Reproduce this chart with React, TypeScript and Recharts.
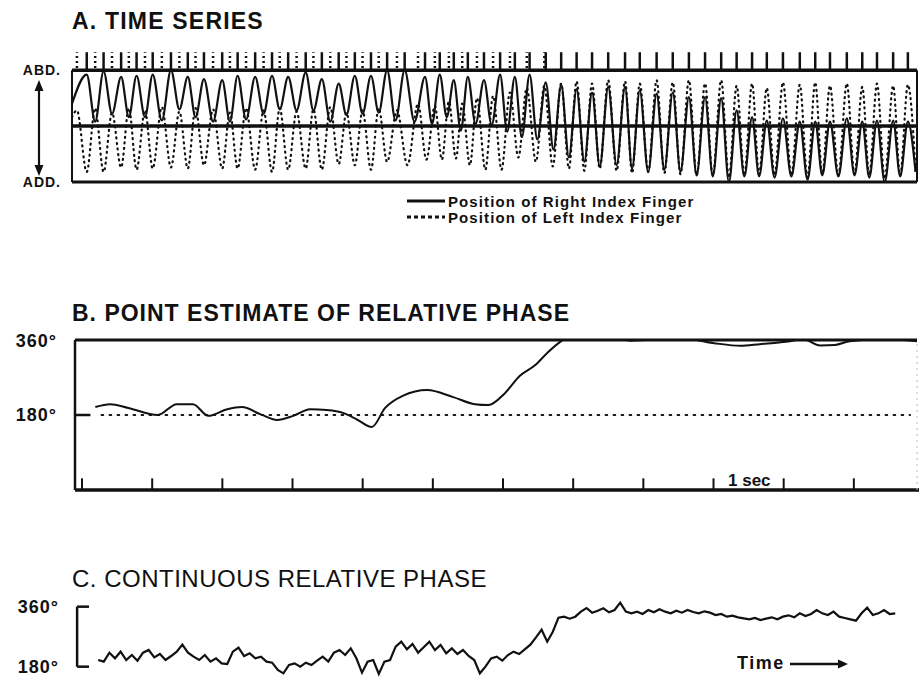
import React from 'react';
import { LineChart, Line, XAxis, YAxis, ReferenceLine } from 'recharts';

const FONT = "'Liberation Sans', Arial, Helvetica, sans-serif";
const INK = '#111';

// ── A. time series: turning points of each finger trace ─────────────
// time in seconds, position 0 = ADD., 100 = ABD.
const rightTimes = [
  -0.14, 0.07, 0.19, 0.31, 0.43, 0.56, 0.67, 0.78, 0.90, 1.01, 1.14, 1.27, 1.39, 1.51, 1.62, 1.74, 1.87,
  2.00, 2.11, 2.22, 2.34, 2.47, 2.59, 2.71, 2.82, 2.94, 3.06, 3.19, 3.30, 3.42, 3.54, 3.66, 3.77, 3.89,
  4.00, 4.12, 4.23, 4.35, 4.47, 4.60, 4.74, 4.89, 4.99, 5.10, 5.20, 5.30, 5.40, 5.50, 5.61, 5.73, 5.84,
  5.96, 6.06, 6.17, 6.27, 6.38, 6.49, 6.61, 6.72, 6.83, 6.94, 7.05, 7.16, 7.27, 7.38, 7.50, 7.62, 7.74,
  7.84, 7.95, 8.07, 8.19, 8.30, 8.42, 8.53, 8.65, 8.76, 8.88, 8.99, 9.11, 9.22, 9.33, 9.44, 9.55, 9.65,
  9.76, 9.87, 9.99, 10.11, 10.23, 10.34, 10.45, 10.55, 10.66, 10.78, 10.90, 11.01, 11.12, 11.22, 11.33,
  11.44, 11.56, 11.66, 11.77, 11.88,
];
const rightPos = [
  70, 96, 54, 99, 61, 94, 58, 95, 58, 96, 55, 100, 65, 94, 58, 92, 54,
  91, 54, 95, 56, 94, 61, 95, 65, 94, 64, 98, 64, 92, 54, 88, 60, 95,
  61, 95, 62, 100, 55, 100, 54, 94, 52, 96, 58, 91, 46, 94, 52, 91, 51,
  96, 45, 94, 40, 96, 38, 89, 29, 87, 22, 83, 18, 80, 14, 85, 15, 85,
  12, 82, 9, 79, 11, 80, 9, 76, 6, 76, 5, 75, 0, 64, 5, 58, 5,
  55, 4, 57, 5, 54, 2, 54, 6, 54, 5, 57, 6, 54, 4, 55,
  0, 55, 5, 54, 9,
];
const leftTimes = [
  -0.14, -0.07, 0.07, 0.19, 0.31, 0.43, 0.56, 0.67, 0.78, 0.90, 1.01, 1.14, 1.27, 1.39, 1.51, 1.62, 1.74,
  1.87, 2.00, 2.11, 2.22, 2.34, 2.47, 2.59, 2.71, 2.82, 2.94, 3.06, 3.19, 3.30, 3.42, 3.54, 3.66, 3.77,
  3.89, 4.00, 4.12, 4.23, 4.35, 4.49, 4.64, 4.79, 4.91, 5.03, 5.13, 5.23, 5.33, 5.42, 5.53, 5.63, 5.75,
  5.86, 5.98, 6.10, 6.22, 6.34, 6.47, 6.59, 6.71, 6.83, 6.94, 7.05, 7.16, 7.27, 7.38, 7.50, 7.62, 7.74,
  7.84, 7.95, 8.07, 8.19, 8.30, 8.42, 8.53, 8.65, 8.76, 8.88, 8.99, 9.11, 9.22, 9.33, 9.44, 9.55, 9.65,
  9.76, 9.87, 9.99, 10.11, 10.23, 10.34, 10.45, 10.55, 10.66, 10.78, 10.90, 11.01, 11.12, 11.22, 11.33,
  11.44, 11.56, 11.66, 11.77, 11.88,
];
const leftPos = [
  58, 64, 9, 66, 9, 62, 13, 66, 11, 64, 12, 67, 13, 63, 12, 66, 15,
  65, 12, 62, 12, 66, 11, 64, 9, 66, 11, 63, 12, 65, 11, 67, 16, 62,
  15, 64, 11, 66, 18, 64, 15, 70, 20, 68, 20, 72, 21, 70, 15, 75, 11,
  77, 11, 80, 22, 84, 18, 86, 14, 88, 12, 90, 10, 88, 12, 91, 10, 90,
  8, 88, 9, 91, 8, 89, 7, 91, 6, 88, 6, 91, 4, 86, 6, 88, 7,
  84, 6, 89, 6, 87, 4, 89, 7, 86, 6, 88, 7, 85, 6, 88,
  3, 86, 6, 87, 10,
];
// left-finger peak marks stop being separate once the hands lock in phase
const IN_PHASE_FROM = 6.7;

// ── B. point estimate of relative phase ────────────────────────────
const phaseTimes = [
  0.19, 0.40, 0.66, 1.08, 1.35, 1.58, 1.80, 2.07, 2.28, 2.54, 2.78, 3.01, 3.25, 3.49, 3.72, 3.93, 4.13,
  4.32, 4.57, 4.92, 5.29, 5.60, 5.79, 6.03, 6.24, 6.46, 6.63, 6.81, 6.91, 7.10, 7.55, 7.81, 8.52, 8.99,
  9.38, 9.66, 10.09, 10.28, 10.52, 10.73, 10.94, 11.37, 11.58, 11.90,
];
const phaseDeg = [
  199, 206, 197, 180, 206, 206, 178, 194, 199, 182, 168, 178, 194, 192, 185, 168, 151,
  197, 226, 240, 223, 206, 204, 233, 274, 300, 329, 355, 365, 360, 372, 358, 365, 353,
  346, 350, 357, 362, 347, 348, 357, 362, 361, 357,
];
const secTicks = [0, 1, 2, 3, 4, 5, 6, 7, 8, 9, 10, 11];

// ── C. continuous relative phase (sampled every 0.08 s from 0.23 s) ─
const CONT_START = 0.23;
const CONT_STEP = 0.08;
const contDeg = [
  200, 195, 222, 205, 225, 200, 215, 198, 222, 230, 208, 218, 200, 212, 225, 246, 222,
  210, 200, 215, 195, 205, 190, 188, 225, 237, 212, 220, 205, 210, 195, 192, 170, 160,
  185, 190, 180, 192, 185, 198, 210, 195, 222, 230, 215, 235, 205, 162, 195, 200, 158,
  195, 200, 240, 255, 232, 248, 222, 238, 255, 230, 245, 220, 235, 218, 230, 212, 200,
  160, 180, 205, 210, 198, 215, 225, 218, 232, 246, 268, 291, 255, 285, 327, 330, 324,
  330, 345, 356, 342, 348, 355, 343, 350, 372, 345, 340, 345, 338, 350, 343, 352, 345,
  340, 348, 342, 350, 344, 340, 346, 342, 335, 338, 330, 333, 328, 325, 322, 326, 320,
  324, 328, 322, 330, 334, 328, 340, 332, 338, 350, 340, 335, 345, 330, 326, 322, 318,
  340, 357, 335, 340, 350, 338, 340,
];

const rightData = rightTimes.map((t, i) => ({ t, v: rightPos[i] }));
const leftData = leftTimes.map((t, i) => ({ t, v: leftPos[i] }));
const rightPeaks = rightTimes.filter((_, i) => i % 2 === 1);
const leftPeaks = leftTimes.filter((t, i) => i % 2 === 1 && t < IN_PHASE_FROM);
const phaseData = phaseTimes.map((t, i) => ({ t, v: phaseDeg[i] }));
const contData = contDeg.map((v, i) => ({ t: CONT_START + i * CONT_STEP, v }));

const A_DOMAIN: [number, number] = [-0.14, 11.9];
const T_DOMAIN: [number, number] = [-0.1, 11.9];

const tickFont = { fill: INK, fontSize: 18, fontWeight: 'bold', fontFamily: FONT };

const title: React.CSSProperties = {
  position: 'absolute', fontFamily: FONT, fontWeight: 'bold', fontSize: 23,
  lineHeight: '23px', letterSpacing: 1.2, color: INK, whiteSpace: 'nowrap',
};
const small: React.CSSProperties = {
  position: 'absolute', fontFamily: FONT, fontWeight: 'bold', fontSize: 17,
  lineHeight: '17px', color: INK, whiteSpace: 'nowrap',
};

function TimeSeries() {
  return (
    <LineChart width={919} height={152} margin={{ top: 10, right: 2, bottom: 10, left: 0 }}>
      <XAxis type="number" dataKey="t" domain={A_DOMAIN} allowDataOverflow hide />
      <YAxis
        type="number" domain={[0, 118]} allowDataOverflow ticks={[0, 100]} width={72}
        axisLine={false} tickLine={false} tickSize={0} tickMargin={11}
        tick={{ ...tickFont, fontSize: 14, letterSpacing: 1 }}
        tickFormatter={(v: number) => (v === 100 ? 'ABD.' : 'ADD.')}
      />
      {/* frame */}
      <ReferenceLine y={100} stroke={INK} strokeWidth={3.5} ifOverflow="visible" />
      <ReferenceLine y={50} stroke={INK} strokeWidth={3.5} ifOverflow="visible" />
      <ReferenceLine y={0} stroke={INK} strokeWidth={3} ifOverflow="visible" />
      <ReferenceLine segment={[{ x: A_DOMAIN[0], y: 0 }, { x: A_DOMAIN[0], y: 100 }]} stroke={INK} strokeWidth={2} ifOverflow="visible" />
      <ReferenceLine segment={[{ x: A_DOMAIN[1], y: 0 }, { x: A_DOMAIN[1], y: 100 }]} stroke={INK} strokeWidth={2} ifOverflow="visible" />
      {/* peak marks above the frame */}
      {leftPeaks.map((t) => (
        <ReferenceLine key={`l${t}`} segment={[{ x: t, y: 102 }, { x: t, y: 116 }]}
          stroke={INK} strokeWidth={2.5} strokeDasharray="2 3" ifOverflow="visible" />
      ))}
      {rightPeaks.map((t) => (
        <ReferenceLine key={`r${t}`} segment={[{ x: t, y: 100 }, { x: t, y: 116 }]}
          stroke={INK} strokeWidth={2.5} ifOverflow="visible" />
      ))}
      <Line data={leftData} dataKey="v" type="monotone" stroke={INK} strokeWidth={2.2}
        strokeDasharray="1 4.5" strokeLinecap="round" dot={false} activeDot={false} isAnimationActive={false} />
      <Line data={rightData} dataKey="v" type="monotone" stroke={INK} strokeWidth={2.2}
        dot={false} activeDot={false} isAnimationActive={false} />
    </LineChart>
  );
}

function PointPhase() {
  return (
    <LineChart width={919} height={170} margin={{ top: 10, right: 2, bottom: 10, left: 0 }}>
      <XAxis type="number" dataKey="t" domain={T_DOMAIN} allowDataOverflow hide />
      <YAxis
        type="number" domain={[0, 360]} allowDataOverflow ticks={[0, 180, 360]} width={75}
        axisLine={false} tickLine={false} tickSize={0} tickMargin={18}
        tick={{ ...tickFont, letterSpacing: 1 }} tickFormatter={(v: number) => `${v}°`}
      />
      <ReferenceLine y={360} stroke={INK} strokeWidth={3} ifOverflow="visible" />
      <ReferenceLine segment={[{ x: T_DOMAIN[0], y: 0 }, { x: 11.93, y: 0 }]} stroke={INK} strokeWidth={3.5} ifOverflow="visible" />
      <ReferenceLine segment={[{ x: T_DOMAIN[0], y: 0 }, { x: T_DOMAIN[0], y: 360 }]} stroke={INK} strokeWidth={2.5} ifOverflow="visible" />
      <ReferenceLine segment={[{ x: T_DOMAIN[1], y: 0 }, { x: T_DOMAIN[1], y: 360 }]} stroke="#bbb" strokeWidth={1} strokeDasharray="2 4" ifOverflow="visible" />
      <ReferenceLine segment={[{ x: T_DOMAIN[0], y: 180 }, { x: 0.12, y: 180 }]} stroke={INK} strokeWidth={2.5} ifOverflow="visible" />
      <ReferenceLine segment={[{ x: 0.28, y: 180 }, { x: 11.8, y: 180 }]} stroke={INK} strokeWidth={2.2}
        strokeDasharray="1.5 6.5" strokeLinecap="round" ifOverflow="visible" />
      {secTicks.map((t) => (
        <ReferenceLine key={t} segment={[{ x: t, y: 0 }, { x: t, y: 28 }]} stroke={INK} strokeWidth={2} ifOverflow="visible" />
      ))}
      <Line data={phaseData} dataKey="v" type="monotone" stroke={INK} strokeWidth={2}
        dot={false} activeDot={false} isAnimationActive={false} />
    </LineChart>
  );
}

function ContPhase() {
  return (
    <LineChart width={919} height={100} margin={{ top: 10, right: 2, bottom: 10, left: 0 }}>
      <XAxis type="number" dataKey="t" domain={T_DOMAIN} allowDataOverflow hide />
      <YAxis
        type="number" domain={[140, 380]} allowDataOverflow ticks={[180, 360]} width={75}
        axisLine={false} tickLine={false} tickSize={0} tickMargin={16}
        tick={{ ...tickFont, letterSpacing: 1 }} tickFormatter={(v: number) => `${v}°`}
      />
      <ReferenceLine segment={[{ x: -0.07, y: 180 }, { x: -0.07, y: 360 }]} stroke={INK} strokeWidth={2.5} ifOverflow="visible" />
      <ReferenceLine segment={[{ x: -0.07, y: 360 }, { x: 0.1, y: 360 }]} stroke={INK} strokeWidth={2.5} ifOverflow="visible" />
      <ReferenceLine segment={[{ x: -0.07, y: 180 }, { x: 0.1, y: 180 }]} stroke={INK} strokeWidth={2.5} ifOverflow="visible" />
      <Line data={contData} dataKey="v" type="linear" stroke={INK} strokeWidth={2.2}
        dot={false} activeDot={false} isAnimationActive={false} />
    </LineChart>
  );
}

export default function App() {
  return (
    <div style={{ position: 'absolute', left: 0, top: 0, width: 919, height: 678, overflow: 'hidden', background: '#fff' }}>
      <div style={{ ...title, left: 72, top: 10 }}>A. TIME SERIES</div>
      <div style={{ position: 'absolute', left: 0, top: 40 }}><TimeSeries /></div>
      <svg style={{ position: 'absolute', left: 31, top: 80 }} width={16} height={96}>
        <line x1={8} y1={8} x2={8} y2={88} stroke={INK} strokeWidth={2.2} />
        <polygon points="8,0 3.5,11 12.5,11" fill={INK} />
        <polygon points="8,96 3.5,85 12.5,85" fill={INK} />
      </svg>
      <svg style={{ position: 'absolute', left: 405, top: 196 }} width={42} height={26}>
        <line x1={2} y1={5} x2={40} y2={5} stroke={INK} strokeWidth={3} />
        <line x1={2} y1={21} x2={40} y2={21} stroke={INK} strokeWidth={3} strokeDasharray="4 3" />
      </svg>
      <div style={{ ...small, left: 448, top: 194, fontSize: 15, lineHeight: '15px', letterSpacing: 1.1 }}>Position of Right Index Finger</div>
      <div style={{ ...small, left: 448, top: 210, fontSize: 15, lineHeight: '15px', letterSpacing: 1.1 }}>Position of Left Index Finger</div>

      <div style={{ ...title, left: 72, top: 302, letterSpacing: 1 }}>B. POINT ESTIMATE OF RELATIVE PHASE</div>
      <div style={{ position: 'absolute', left: 0, top: 330 }}><PointPhase /></div>
      <div style={{ ...small, left: 728, top: 472 }}>1 sec</div>

      <div style={{ ...title, left: 72, top: 567, fontFamily: "'Liberation Sans Narrow', " + FONT, fontWeight: 'normal', fontSize: 24, letterSpacing: 0.5 }}>
        C. CONTINUOUS RELATIVE PHASE
      </div>
      <div style={{ position: 'absolute', left: 0, top: 590 }}><ContPhase /></div>
      <div style={{ ...small, left: 737, top: 655, fontSize: 18, letterSpacing: 1.5 }}>Time</div>
      <svg style={{ position: 'absolute', left: 788, top: 658 }} width={62} height={12}>
        <line x1={2} y1={6} x2={52} y2={6} stroke={INK} strokeWidth={2.5} />
        <polygon points="60,6 50,1.5 50,10.5" fill={INK} />
      </svg>
    </div>
  );
}
